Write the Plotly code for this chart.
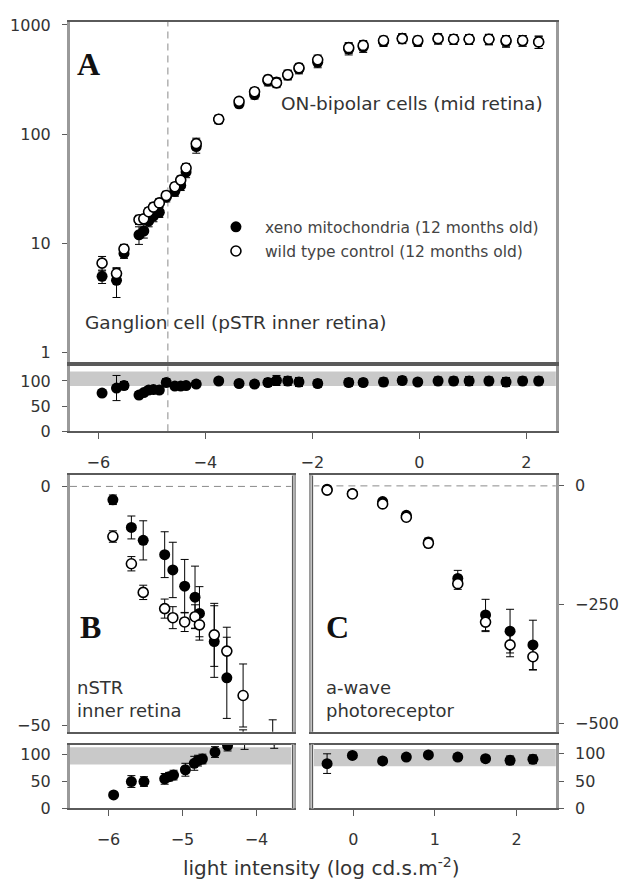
import plotly.graph_objects as go

# ---------------- data ----------------
# Panel A: pSTR / ON-bipolar amplitude (log scale), and xeno / control ratio (%)
x_a = [-5.93, -5.66, -5.52, -5.24, -5.15, -5.06, -4.97, -4.86, -4.73, -4.57, -4.46, -4.36, -4.17,
       -3.75, -3.37, -3.08, -2.83, -2.67, -2.46, -2.25, -1.90, -1.32, -1.05, -0.67, -0.32, -0.03,
       0.35, 0.64, 0.93, 1.30, 1.62, 1.93, 2.23]
wt_a = [6.6, 5.3, 8.9, 16.5, 16.8, 19.5, 21.5, 23.5, 27.5, 33, 38, 49, 82,
        137, 200, 245, 316, 295, 350, 405, 480, 620, 650, 720, 750, 720,
        750, 740, 740, 740, 720, 720, 700]
wt_a_err = [1.0, 0.6, 0.9, 1.6, 1.5, 1.8, 2.0, 2.2, 2.5, 3.0, 3.5, 5, 10,
            12, 15, 20, 30, 28, 35, 40, 50, 70, 70, 70, 75, 70,
            80, 75, 75, 80, 80, 80, 90]
xeno_a = [5.0, 4.6, 8.1, 12.0, 13.0, 16.0, 17.8, 19.3, 26.5, 30, 34, 45, 77,
          137, 190, 230, 307, 300, 350, 397, 456, 602, 631, 706, 758, 706,
          750, 740, 740, 740, 705, 720, 700]
xeno_a_err = [0.7, 1.4, 0.8, 2.2, 1.8, 1.8, 2.0, 2.0, 2.5, 3.0, 3.5, 5, 10,
              12, 15, 20, 30, 28, 35, 40, 50, 70, 70, 70, 75, 70,
              80, 75, 75, 80, 80, 80, 90]
ratio_a = [76, 86, 91, 72, 77, 82, 83, 82, 97, 90, 90, 91, 94,
           100, 95, 94, 97, 101, 100, 98, 95, 97, 97, 98, 101, 98,
           100, 100, 100, 100, 98, 100, 100]
ratio_a_err = [6, 25, 8, 7, 6, 6, 6, 7, 8, 6, 5, 6, 6,
               5, 6, 6, 8, 10, 9, 9, 8, 8, 7, 8, 8, 7,
               8, 8, 9, 8, 9, 8, 8]
band_a = [90, 119]

# Panel B: nSTR amplitude and ratio
x_b = [-5.94, -5.69, -5.53, -5.24, -5.13, -4.97, -4.83, -4.77, -4.57, -4.40, -4.18, -3.78]
xeno_b = [-2.8, -8.6, -11.3, -14.3, -17.5, -20.9, -23.2, -26.6, -32.5, -40.1, -57, -60]
xeno_b_err = [1.0, 2.4, 4.1, 4.8, 5.8, 5.6, 6.5, 5.6, 7.5, 8.5, 6, 6]
wt_b = [-10.5, -16.2, -22.2, -25.6, -27.5, -28.4, -27.3, -29.0, -31.1, -34.5, -43.8, -55.5]
wt_b_err = [1.2, 1.5, 1.5, 2.0, 2.3, 2.0, 2.5, 2.5, 6.6, 5.0, 6.6, 6.6]
x_b_ratio = [-5.93, -5.69, -5.52, -5.24, -5.18, -5.12, -4.96, -4.84, -4.79, -4.73, -4.56, -4.39, -4.16, -3.76]
ratio_b = [25, 50, 50, 55, 59, 62, 72, 84, 89, 92, 105, 117, 130, 128]
ratio_b_err = [5, 11, 9, 10, 8, 9, 12, 13, 10, 9, 10, 10, 20, 16]
band_b = [82, 114]

# Panel C: a-wave amplitude and ratio
x_c = [-0.32, -0.01, 0.36, 0.65, 0.92, 1.28, 1.62, 1.92, 2.20]
wt_c = [-9, -17, -38, -66, -121, -206, -287, -335, -360]
wt_c_err = [4, 4, 5, 6, 8, 12, 20, 25, 28]
xeno_c = [-7, -16, -33, -62, -118, -195, -272, -306, -335]
xeno_c_err = [3, 4, 5, 6, 8, 17, 33, 46, 52]
ratio_c = [82, 97, 87, 94, 98, 94, 91, 88, 90]
ratio_c_err = [18, 5, 6, 5, 5, 6, 6, 8, 8]
band_c = [77, 109]

pstr_limit = -4.70  # boundary between ganglion-cell and bipolar-cell ranges

# ---------------- layout helpers ----------------
W, H = 619, 893


def fx(p):
    return p / W


def fy(p):
    return 1 - p / H


FONT = "DejaVu Sans"
TXT = "#333333"
FRAME = "#5a5a5a"
SIDE = "#9a9a9a"

fig = go.Figure()


def err(vals):
    return dict(type="data", array=vals, visible=True, color="black", thickness=1, width=4)


def filled(x, y, e, xa, ya, name=None, show=False):
    return go.Scatter(x=x, y=y, mode="markers", xaxis=xa, yaxis=ya, name=name, showlegend=show,
                      legendgroup=name, marker=dict(symbol="circle", size=11, color="black",
                                                    line=dict(width=0)),
                      error_y=err(e))


def hollow(x, y, e, xa, ya, name=None, show=False):
    return go.Scatter(x=x, y=y, mode="markers", xaxis=xa, yaxis=ya, name=name, showlegend=show,
                      legendgroup=name, marker=dict(symbol="circle", size=10, color="white",
                                                    line=dict(width=1.6, color="black")),
                      error_y=err(e))


XENO = "xeno mitochondria (12 months old)"
WT = "wild type control (12 months old)"

# Panel A
fig.add_trace(filled(x_a, xeno_a, xeno_a_err, "x", "y", XENO, True))
fig.add_trace(hollow(x_a, wt_a, wt_a_err, "x", "y", WT, True))
fig.add_trace(filled(x_a, ratio_a, ratio_a_err, "x2", "y2"))
# Panel B
fig.add_trace(filled(x_b, xeno_b, xeno_b_err, "x3", "y3"))
fig.add_trace(hollow(x_b, wt_b, wt_b_err, "x3", "y3"))
fig.add_trace(filled(x_b_ratio, ratio_b, ratio_b_err, "x4", "y4"))
# Panel C
fig.add_trace(filled(x_c, xeno_c, xeno_c_err, "x5", "y5"))
fig.add_trace(hollow(x_c, wt_c, wt_c_err, "x5", "y5"))
fig.add_trace(filled(x_c, ratio_c, ratio_c_err, "x6", "y6"))

tickfont = dict(family=FONT, size=16, color=TXT)


def xax(dom, rng, tickvals=None, labels=True, anchor=None):
    d = dict(domain=dom, range=rng, showgrid=False, zeroline=False, showline=True, mirror=True,
             linecolor=FRAME, linewidth=1.5, tickfont=tickfont, anchor=anchor)
    if labels and tickvals is not None:
        d.update(tickvals=tickvals, ticks="outside", ticklen=6, tickcolor=FRAME,
                 ticklabelstandoff=10)
    else:
        d.update(showticklabels=False, ticks="")
    return d


def yax(dom, rng, tickvals, side="left", anchor=None, kind="linear", ticktext=None):
    d = dict(domain=dom, range=rng, type=kind, showgrid=False, zeroline=False, showline=True,
             mirror=True, linecolor=SIDE, linewidth=3, tickfont=tickfont, side=side,
             tickvals=tickvals, ticks="outside", ticklen=5, tickcolor=FRAME,
             ticklabelstandoff=8, anchor=anchor)
    if ticktext is not None:
        d["ticktext"] = ticktext
    return d


# pixel geometry of the six plotting areas
ax_a = [fx(71), fx(564)]
ax_b = [fx(71), fx(297)]
ax_c = [fx(317), fx(564)]
ya_main = [fy(363), fy(16)]
ya_strip = [fy(433), fy(367)]
ybc_main = [fy(739), fy(478)]
ybc_strip = [fy(817), fy(752)]

fig.update_layout(
    xaxis=xax(ax_a, [-6.53, 2.55], labels=False, anchor="y"),
    yaxis=yax(ya_main, [-0.09, 3.03], [1, 10, 100, 1000], anchor="x", kind="log",
              ticktext=["1", "10", "100", "1000"]),
    xaxis2=xax(ax_a, [-6.53, 2.55], [-6, -4, -2, 0, 2], anchor="y2"),
    yaxis2=yax(ya_strip, [0, 129], [0, 50, 100], anchor="x2"),
    xaxis3=xax(ax_b, [-6.52, -3.51], labels=False, anchor="y3"),
    yaxis3=yax(ybc_main, [-51.4, 2.3], [-50, 0], anchor="x3"),
    xaxis4=xax(ax_b, [-6.52, -3.51], [-6, -5, -4], anchor="y4"),
    yaxis4=yax(ybc_strip, [0, 119], [0, 50, 100], anchor="x4"),
    xaxis5=xax(ax_c, [-0.5, 2.48], labels=False, anchor="y5"),
    yaxis5=yax(ybc_main, [-518, 22], [-500, -250, 0], side="right", anchor="x5"),
    xaxis6=xax(ax_c, [-0.5, 2.48], [0, 1, 2], anchor="y6"),
    yaxis6=yax(ybc_strip, [0, 117], [0, 50, 100], side="right", anchor="x6"),
)

shapes = []
# normal-range bands in the ratio strips
for xa, ya, band in (("x2", "y2", band_a), ("x4", "y4", band_b), ("x6", "y6", band_c)):
    shapes.append(dict(type="rect", xref=f"{xa} domain", yref=ya, x0=0, x1=1, y0=band[0], y1=band[1],
                       fillcolor="#c9c9c9", line=dict(width=0), layer="below"))
# zero reference lines in B and C
for xa, ya in (("x3", "y3"), ("x5", "y5")):
    shapes.append(dict(type="line", xref=f"{xa} domain", yref=ya, x0=0, x1=1, y0=0, y1=0,
                       line=dict(color="#8a8a8a", width=1, dash="7px,5px"), layer="below"))
# boundary of the pSTR range through panel A and its strip
for xa, ya in (("x", "y"), ("x2", "y2")):
    shapes.append(dict(type="line", xref=xa, yref=f"{ya} domain", x0=pstr_limit, x1=pstr_limit,
                       y0=0, y1=1, line=dict(color="#8a8a8a", width=1, dash="7px,5px"), layer="below"))
# thin frame edges opposite the y-axis side in B and C
for xa, ya, xe in (("x3", "y3", 1), ("x4", "y4", 1), ("x5", "y5", 0), ("x6", "y6", 0)):
    shapes.append(dict(type="line", xref=f"{xa} domain", yref=f"{ya} domain", x0=xe, x1=xe,
                       y0=0, y1=1, line=dict(color="white", width=3)))
    shapes.append(dict(type="line", xref=f"{xa} domain", yref=f"{ya} domain", x0=xe, x1=xe,
                       y0=0, y1=1, line=dict(color=FRAME, width=1.5)))
fig.update_layout(shapes=shapes)

annotations = []


def note(text, x, y, size=18, xanchor="left", yanchor="middle", family=FONT, bold=False):
    if bold:
        text = f"<b>{text}</b>"
    annotations.append(dict(text=text, x=fx(x), y=fy(y), xref="paper", yref="paper",
                            xanchor=xanchor, yanchor=yanchor, showarrow=False, align="left",
                            font=dict(family=family, size=size, color="#111" if bold else TXT)))


note("A", 90, 59, size=32, xanchor="center", family="Liberation Serif", bold=True)
note("B", 92, 632, size=32, xanchor="center", family="Liberation Serif", bold=True)
note("C", 342, 632, size=32, xanchor="center", family="Liberation Serif", bold=True)
note("ON-bipolar cells (mid retina)", 553, 99, size=18.5, xanchor="right")
note("Ganglion cell (pSTR inner retina)", 84, 322, size=18.5)
note("nSTR<br>inner retina", 76, 706)
note("a-wave<br>photoreceptor", 329, 706)
note("light intensity (log cd.s.m<sup>-2</sup>)", 326, 877, size=20, xanchor="center")
fig.update_layout(annotations=annotations)

fig.update_layout(
    width=W, height=H, margin=dict(l=0, r=0, t=0, b=0),
    paper_bgcolor="white", plot_bgcolor="white",
    showlegend=True,
    legend=dict(x=fx(210), y=fy(208), xanchor="left", yanchor="top", itemwidth=48,
                bgcolor="rgba(0,0,0,0)", borderwidth=0, tracegroupgap=1,
                font=dict(family=FONT, size=15.5, color="#444")),
)

fig.write_html("out.html")
